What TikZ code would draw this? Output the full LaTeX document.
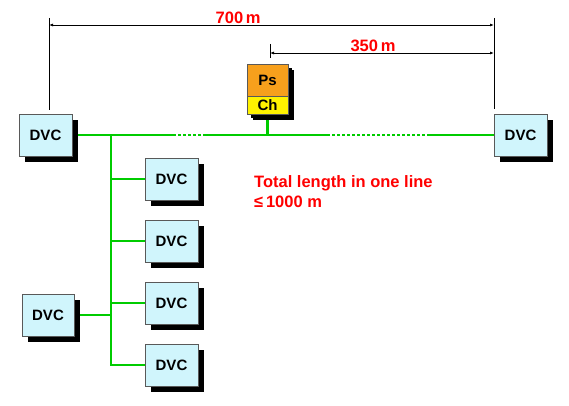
\documentclass[tikz,border=0pt]{standalone}
\usepackage{fontspec}
\setmainfont{Liberation Sans}
\usetikzlibrary{arrows.meta, positioning, shadows, backgrounds}
\definecolor{dvcblue}{RGB}{208,245,252}
\definecolor{netgreen}{RGB}{0,204,0}
\definecolor{psorange}{RGB}{247,160,28}

\begin{document}
\begin{tikzpicture}[
  x=1pt, y=-1pt,
  box/.style={draw=gray!70!black, line width=0.8pt, outer sep=0pt, font=\fontsize{15}{17}\selectfont\bfseries,
    general shadow={shadow xshift=6pt, shadow yshift=-6pt, fill=black}},
  dvc/.style={box, fill=dvcblue, minimum width=53pt, minimum height=42pt},
  bus/.style={draw=netgreen, line width=2.5pt},
  busdot/.style={bus, dash pattern=on 2.5pt off 2.5pt},
  dim/.style={{Latex[length=4pt,width=3pt]}-{Latex[length=4pt,width=3pt]}, line width=0.8pt},
  lbl/.style={text=red, font=\fontsize{16.5}{20}\selectfont\bfseries}
]
\useasboundingbox (0,0) rectangle (569,406);

\node[dvc] (dvcL) at (45.5,135) {DVC};
\node[dvc] (dvcR) at (520.5,135) {DVC};
\node[dvc] (dvcA) at (171.5,179) {DVC};
\node[dvc] (dvcB) at (171.5,241) {DVC};
\node[dvc] (dvcC) at (171.5,303) {DVC};
\node[dvc] (dvcD) at (171.5,365) {DVC};
\node[dvc, minimum width=52pt] (dvcE) at (48,315) {DVC};

\node[box, fill=psorange, minimum width=41pt, minimum height=32pt,
  general shadow={shadow xshift=4pt, shadow yshift=-4pt, fill=black}] (ps) at (267.5,80) {Ps};
\node[box, fill=yellow, minimum width=41pt, minimum height=18pt,
  general shadow={shadow xshift=4pt, shadow yshift=-4pt, fill=black}, below=0pt of ps] (ch) {Ch};

% network
\coordinate (split) at (111,135);
\coordinate (gapA1) at (173,135);
\coordinate (gapA2) at (205,135);
\coordinate (gapB1) at (327,135);
\coordinate (gapB2) at (427,135);
\begin{scope}[on background layer]
\draw[bus] (dvcL.east) -- (gapA1);
\draw[busdot] (gapA1) -- (gapA2);
\draw[bus] (gapA2) -- (gapB1);
\draw[busdot] (gapB1) -- (gapB2);
\draw[bus] (gapB2) -- (dvcR.west);
\draw[bus] (ch.south) -- (ch.south |- split);
\draw[bus] (split) -- (split |- dvcD.west) -- (dvcD.west);
\foreach \n in {A,B,C}
  \draw[bus] (split |- dvc\n.west) -- (dvc\n.west);
\draw[bus] (dvcE.east) -- (split |- dvcE.east);
\end{scope}

% dimensions
\coordinate (tickL) at (49,18);
\coordinate (tickR) at (494,18);
\coordinate (tickM) at (270,44);
\draw[line width=0.8pt] (tickL) -- ++(0,92);
\draw[line width=0.8pt] (tickR) -- ++(0,91);
\draw[line width=0.8pt] (tickM) -- ++(0,14);
\draw[dim] (49,25) -- (494,25) node[lbl, pos=0.425, above, inner sep=1pt] (len700) {700\,m};
\draw[dim] (270,53) -- (494,53) node[lbl, pos=0.46, above, inner sep=1pt] (len350) {350\,m};

\node[lbl, anchor=north west, align=left, inner sep=0pt] (note) at (254,175) {Total length in one line\\≤\,1000 m};
\end{tikzpicture}
\end{document}
